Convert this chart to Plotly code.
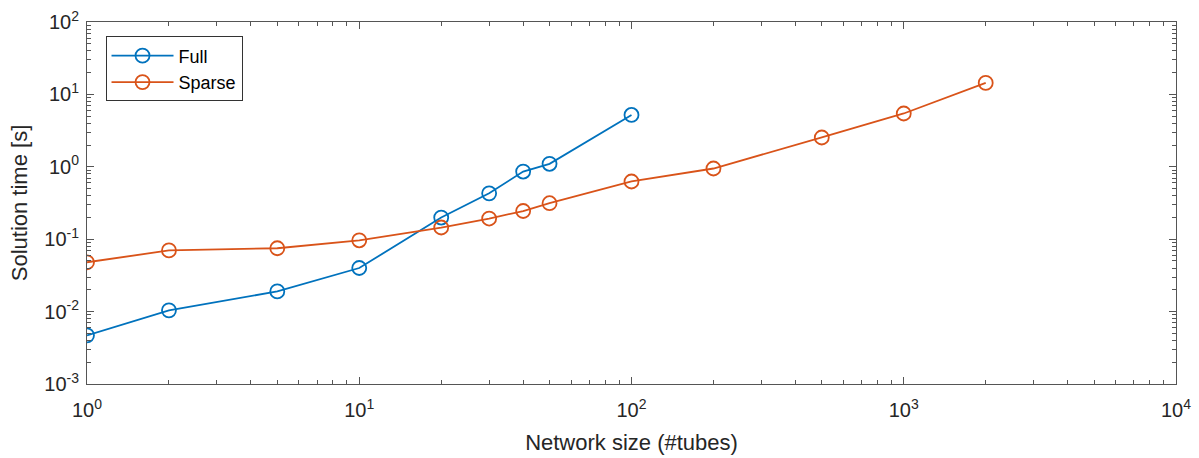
import plotly.graph_objects as go

# Solve times of the two solvers versus network size
full_sizes = [1, 2, 5, 10, 20, 30, 40, 50, 100]
full_times = [0.0047, 0.0104, 0.019, 0.040, 0.199, 0.43, 0.86, 1.10, 5.2]

sparse_sizes = [1, 2, 5, 10, 20, 30, 40, 50, 100, 200, 500, 1000, 2000]
sparse_times = [0.048, 0.070, 0.075, 0.0966, 0.145, 0.193, 0.245, 0.314,
                0.627, 0.947, 2.54, 5.45, 14.4]

x_exponents = [0, 1, 2, 3, 4]
y_exponents = [-3, -2, -1, 0, 1, 2]

BLUE = "#0072BD"
ORANGE = "#D95319"
AXIS = "#262626"
FONT = "Arial, Liberation Sans, sans-serif"


def decade_ticks(exps):
    vals = [10.0 ** e for e in exps]
    text = [f"10<sup>{e}</sup>" for e in exps]
    minor = [m * 10.0 ** e for e in exps[:-1] for m in range(2, 10)]
    return vals, text, minor


fig = go.Figure()
for name, xs, ys, col in [("Full", full_sizes, full_times, BLUE),
                          ("Sparse", sparse_sizes, sparse_times, ORANGE)]:
    fig.add_trace(go.Scatter(
        x=xs, y=ys, name=name, mode="lines+markers",
        line=dict(color=col, width=1.8),
        marker=dict(symbol="circle-open", size=14, color=col,
                    line=dict(width=1.8, color=col)),
    ))

axis_common = dict(
    type="log", showgrid=False, zeroline=False, automargin=False,
    showline=True, linecolor="#555555", linewidth=1, mirror="allticks",
    ticks="inside", ticklen=7, tickcolor="#555555",
    tickfont=dict(family=FONT, size=20, color=AXIS),
)

xv, xt, xm = decade_ticks(x_exponents)
yv, yt, ym = decade_ticks(y_exponents)

fig.update_xaxes(
    **axis_common, range=[0, 4], tickvals=xv, ticktext=xt,
    minor=dict(tickvals=xm, ticks="inside", ticklen=4, tickcolor="#555555", showgrid=False),
    ticklabelstandoff=8,
    title=dict(text="Network size (#tubes)", font=dict(family=FONT, size=22, color=AXIS),
               standoff=14),
)
fig.update_yaxes(
    **axis_common, range=[-3, 2], tickvals=yv, ticktext=yt,
    minor=dict(tickvals=ym, ticks="inside", ticklen=4, tickcolor="#555555", showgrid=False),
    ticklabelstandoff=3,
    title=dict(text="Solution time [s]", font=dict(family=FONT, size=22, color=AXIS),
               standoff=10),
)

fig.update_layout(
    width=1199, height=458,
    margin=dict(l=87, r=23, t=22, b=74),
    paper_bgcolor="white", plot_bgcolor="white",
    font=dict(family=FONT, color=AXIS),
    legend=dict(x=0.017, y=0.96, xanchor="left", yanchor="top",
                bgcolor="white", bordercolor="#333333", borderwidth=1,
                itemwidth=62,
                font=dict(family=FONT, size=18, color="black")),
)

fig.write_html("out.html")
